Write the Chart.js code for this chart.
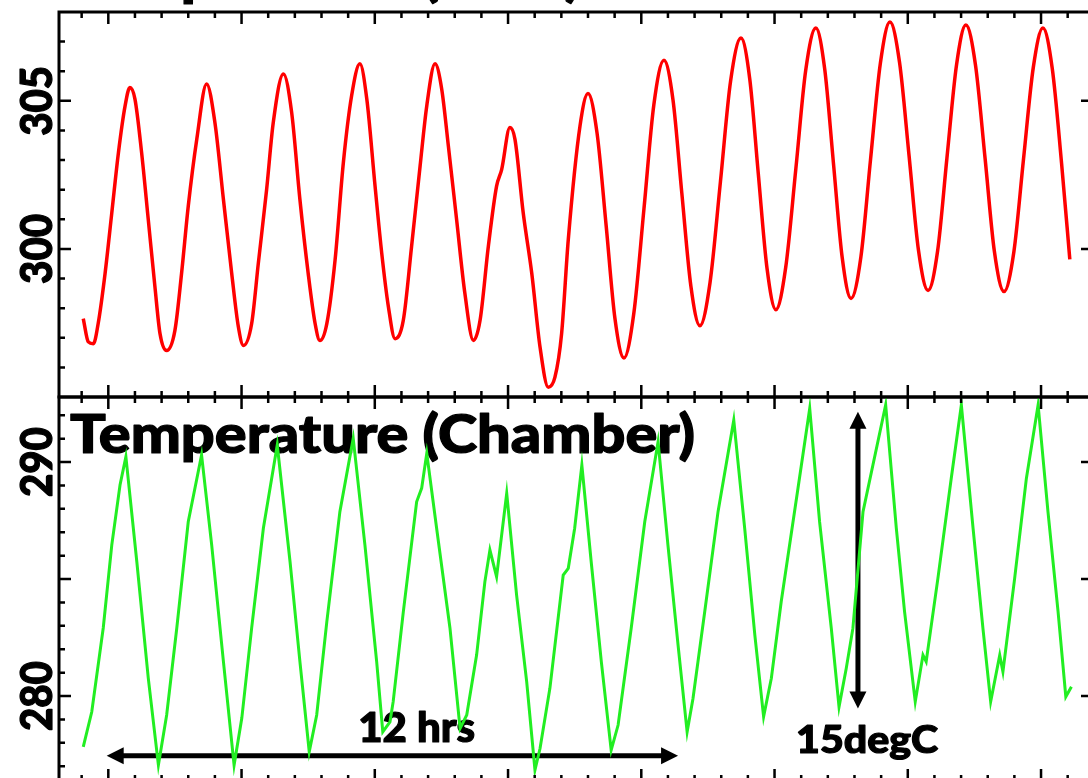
<!DOCTYPE html>
<html>
<head>
<meta charset="utf-8">
<title>Temperature cycling</title>
<script src="https://cdn.jsdelivr.net/npm/chart.js@4.4.1/dist/chart.umd.min.js"></script>
<style>
  html, body { margin: 0; padding: 0; background: #fff; overflow: hidden; }
  #wrap { position: relative; width: 1088px; height: 778px; overflow: hidden; }
  #topChart { position: absolute; left: 0; top: 0; }
  #bottomChart { position: absolute; left: 0; top: 380px; }
</style>
</head>
<body>
<div id="wrap">
  <canvas id="topChart" width="1100" height="400"></canvas>
  <canvas id="bottomChart" width="1100" height="420"></canvas>
</div>
<script>
// time in frame-tick units (one minor tick = 1), temperatures
const timeRed = [-0.94, -0.75, -0.56, -0.38, -0.12, 0.13, 0.38, 0.63, 0.81, 1.00,
  1.25, 1.50, 1.75, 1.94, 2.19, 2.50, 2.75, 3.00, 3.32, 3.69,
  4.00, 4.32, 4.63, 4.88, 5.07, 5.38, 5.63, 5.94, 6.19, 6.57,
  6.88, 7.19, 7.50, 7.76, 7.94, 8.20, 8.51, 8.82, 9.13, 9.44,
  9.70, 10.01, 10.26, 10.51, 10.76, 11.07, 11.38, 11.70, 11.95, 12.26,
  12.51, 12.76, 13.07, 13.38, 13.70, 13.95, 14.26, 14.57, 14.76, 15.07,
  15.26, 15.57, 15.89, 16.20, 16.51, 16.76, 17.01, 17.26, 17.70, 18.00,
  18.34, 18.68, 19.01, 19.35, 19.72, 20.10, 20.47, 20.85, 21.19, 21.52,
  21.86, 22.20, 22.58, 22.97, 23.35, 23.74, 24.07, 24.39, 24.72, 25.05,
  25.42, 25.80, 26.17, 26.55, 26.88, 27.21, 27.54, 27.87, 28.24, 28.60,
  28.97, 29.33, 29.69, 30.05, 30.40, 30.76, 31.12, 31.47, 31.83, 32.18,
  32.54, 32.90, 33.25, 33.61, 33.98, 34.34, 34.71, 35.07, 35.42, 35.77, 36.08];
const tempRed = [297.65, 296.86, 296.80, 297.48, 299.18, 301.21, 303.25, 304.83, 305.45, 305.06,
  303.25, 300.99, 298.72, 297.14, 296.57, 297.25, 299.18, 301.44, 303.70, 305.57,
  304.27, 301.67, 299.18, 297.37, 296.74, 297.48, 299.52, 302.00, 304.27, 305.91,
  304.61, 301.67, 299.18, 297.48, 296.91, 297.48, 299.63, 302.91, 305.17, 306.25,
  305.06, 302.12, 299.86, 298.05, 296.97, 297.59, 300.08, 302.80, 304.83, 306.25,
  305.40, 303.48, 300.99, 298.50, 296.91, 297.59, 300.08, 302.12, 302.68, 304.10,
  303.70, 301.21, 299.18, 296.69, 295.33, 295.67, 297.14, 300.31, 304.15, 305.25,
  303.91, 300.80, 297.66, 296.32, 297.83, 301.35, 304.86, 306.37, 305.03, 301.89,
  298.75, 297.41, 298.87, 302.27, 305.66, 307.12, 305.74, 302.54, 299.33, 297.95,
  299.38, 302.71, 306.03, 307.46, 306.09, 302.90, 299.70, 298.33, 299.73, 303.00,
  306.26, 307.66, 306.30, 303.13, 299.96, 298.60, 299.94, 303.08, 306.22, 307.56,
  306.21, 303.06, 299.91, 298.56, 299.90, 303.01, 306.13, 307.46, 306.10, 302.90, 299.65];

const timeGreen = [-0.94, -0.62, -0.19, 0.13, 0.44, 0.66, 1.07, 1.50, 1.88, 2.19,
  2.57, 3.00, 3.50, 3.88, 4.32, 4.72, 5.01, 5.38, 5.82, 6.34,
  6.82, 7.19, 7.54, 7.82, 8.20, 8.69, 9.19, 9.63, 10.07, 10.30,
  10.57, 10.69, 11.07, 11.57, 11.76, 11.95, 12.32, 12.82, 13.20, 13.45,
  13.82, 14.13, 14.32, 14.57, 14.95, 15.32, 15.70, 16.01, 16.20, 16.57,
  17.07, 17.26, 17.50, 17.77, 18.12, 18.50, 18.87, 19.13, 19.62, 20.13,
  20.63, 21.00, 21.38, 21.72, 21.94, 22.38, 22.88, 23.47, 23.88, 24.26,
  24.59, 24.88, 25.25, 25.88, 26.32, 26.69, 27.13, 27.42, 27.69, 27.94,
  28.32, 29.17, 29.57, 29.88, 30.28, 30.57, 30.69, 31.13, 31.63, 32.01,
  32.45, 32.82, 33.11, 33.45, 33.57, 34.01, 34.45, 34.89, 35.26, 35.64, 35.93, 36.14];
const tempGreen = [277.83, 279.33, 282.91, 286.45, 289.02, 290.23, 285.74, 280.77, 277.05, 279.19,
  282.91, 287.45, 290.30, 286.45, 281.47, 277.05, 279.06, 282.91, 287.18, 290.73,
  285.74, 281.47, 277.62, 279.19, 283.18, 287.88, 291.01, 286.45, 281.47, 278.47,
  278.90, 279.76, 283.60, 288.30, 288.89, 290.37, 287.17, 282.91, 278.62, 279.19,
  281.75, 284.88, 286.24, 285.10, 288.66, 284.32, 280.61, 276.84, 277.76, 280.33,
  285.17, 285.46, 287.17, 289.87, 285.74, 281.47, 277.69, 278.76, 282.89, 287.45,
  290.87, 286.45, 282.18, 278.47, 279.90, 283.60, 287.88, 291.79, 287.17, 282.61,
  279.12, 280.76, 284.03, 288.88, 292.29, 287.45, 282.89, 279.54, 281.18, 282.89,
  287.88, 292.44, 287.17, 283.60, 279.76, 281.75, 281.47, 285.03, 289.30, 292.44,
  287.17, 282.89, 279.76, 281.75, 281.04, 285.03, 289.30, 292.44, 287.88, 283.60, 279.97, 280.40];

const timeRange = [-1.85, 36.95];
const topRange = [295, 308];
const bottomRange = [276.37, 292.78];
const topTickLabels = [300, 305];
const bottomTickLabels = [280, 290];
const titles = ['Temperature (DUT)', 'Temperature (Chamber)'];

// annotations, in data units
const hoursSpan = { from: -0.06, to: 21.38, at: 277.45, label: '12 hrs', labelAt: [11.57, 278.05] };
const swingSpan = { at: 28.13, from: 279.47, to: 292.15, label: '15degC', labelAt: [28.47, 277.55] };

const FONT = 'Lato, "Open Sans", sans-serif';

// heavy squeezed text, close to the bold Calibri of the original
function heavyText(ctx, text, capH, sx, align) {
  ctx.font = '900 ' + (capH / 0.72) + 'px ' + FONT;
  ctx.scale(sx, 1);
  ctx.textAlign = align;
  ctx.textBaseline = 'alphabetic';
  ctx.fillStyle = '#000';
  ctx.strokeStyle = '#000';
  ctx.lineWidth = 1.2;
  ctx.lineJoin = 'round';
  ctx.fillText(text, 0, 0);
  ctx.strokeText(text, 0, 0);
}

function fitText(ctx, text, x, y, capH, width, align) {
  ctx.save();
  ctx.font = '900 ' + (capH / 0.72) + 'px ' + FONT;
  const sx = width / ctx.measureText(text).width;
  ctx.translate(x, y);
  heavyText(ctx, text, capH, sx, align);
  ctx.restore();
}

// both titles share the squeeze of the visible one
function drawTitle(ctx, text, x, y) {
  ctx.save();
  ctx.font = '900 ' + (38 / 0.72) + 'px ' + FONT;
  const sx = 625 / ctx.measureText(titles[1]).width;
  ctx.translate(x, y);
  heavyText(ctx, text, 38, sx, 'left');
  ctx.restore();
}

function drawArrow(ctx, x1, y1, x2, y2) {
  const head = 17, half = 8.5;
  const len = Math.hypot(x2 - x1, y2 - y1);
  const ux = (x2 - x1) / len, uy = (y2 - y1) / len;
  ctx.save();
  ctx.strokeStyle = '#000';
  ctx.fillStyle = '#000';
  ctx.lineWidth = 5;
  ctx.beginPath();
  ctx.moveTo(x1 + ux * head * 0.8, y1 + uy * head * 0.8);
  ctx.lineTo(x2 - ux * head * 0.8, y2 - uy * head * 0.8);
  ctx.stroke();
  [[x1, y1, 1], [x2, y2, -1]].forEach(([tx, ty, d]) => {
    const bx = tx + ux * head * d, by = ty + uy * head * d;
    ctx.beginPath();
    ctx.moveTo(tx, ty);
    ctx.lineTo(bx - uy * half, by + ux * half);
    ctx.lineTo(bx + uy * half, by - ux * half);
    ctx.closePath();
    ctx.fill();
  });
  ctx.restore();
}

// frame with inward ticks on every side, rotated labels on the left
function drawFrame(chart, tickLabels) {
  const { ctx, chartArea: a, scales: { x, y } } = chart;
  ctx.save();
  ctx.strokeStyle = '#000';
  ctx.lineWidth = 3;
  ctx.strokeRect(a.left, a.top, a.right - a.left, a.bottom - a.top);
  ctx.lineWidth = 2.5;
  ctx.beginPath();
  x.ticks.forEach(t => {
    if (!Number.isInteger(t.value)) return;
    const px = x.getPixelForValue(t.value);
    if (px < a.left + 3 || px > a.right - 3) return;
    const len = t.value % 5 === 0 ? 12 : 6;
    ctx.moveTo(px, a.top); ctx.lineTo(px, a.top + len);
    ctx.moveTo(px, a.bottom); ctx.lineTo(px, a.bottom - len);
  });
  y.ticks.forEach(t => {
    if (!Number.isInteger(t.value)) return;
    const py = y.getPixelForValue(t.value);
    if (py < a.top + 3 || py > a.bottom - 3) return;
    const major = t.value % 5 === 0;
    ctx.moveTo(a.left, py); ctx.lineTo(a.left + (major ? 12 : 6), py);
    if (major) { ctx.moveTo(a.right, py); ctx.lineTo(a.right - 12, py); }
  });
  ctx.stroke();
  ctx.restore();

  tickLabels.forEach(v => {
    const py = y.getPixelForValue(v);
    ctx.save();
    ctx.translate(a.left - 7, py);
    ctx.rotate(-Math.PI / 2);
    fitText(ctx, String(v), 0, 0, 32, 70, 'center');
    ctx.restore();
  });
}

function makeChart(id, times, temps, color, width, range, pad, tickLabels, spline, decorate) {
  return new Chart(document.getElementById(id), {
    type: 'line',
    data: {
      datasets: [{
        data: times.map((t, i) => ({ x: t, y: temps[i] })),
        borderColor: color,
        borderWidth: width,
        pointRadius: 0,
        fill: false,
        tension: spline ? 0.4 : 0,
        cubicInterpolationMode: spline ? 'monotone' : 'default'
      }]
    },
    options: {
      responsive: false,
      animation: false,
      devicePixelRatio: 1,
      layout: { padding: pad },
      plugins: { legend: { display: false }, tooltip: { enabled: false } },
      scales: {
        x: { type: 'linear', display: false, min: timeRange[0], max: timeRange[1],
             ticks: { stepSize: 1, includeBounds: false } },
        y: { type: 'linear', display: false, min: range[0], max: range[1],
             ticks: { stepSize: 1, includeBounds: false } }
      }
    },
    plugins: [{
      id: 'frame',
      beforeDatasetsDraw(chart) { decorate(chart); },
      afterDatasetsDraw(chart) { drawFrame(chart, tickLabels); }
    }]
  });
}

makeChart('topChart', timeRed, tempRed, '#ff0000', 3.5, topRange,
  { left: 59, right: 7, top: 12, bottom: 3 }, topTickLabels, true,
  chart => {
    const a = chart.chartArea;
    drawTitle(chart.ctx, titles[0], a.left + 11, a.top - 17);
  });

makeChart('bottomChart', timeGreen, tempGreen, '#22ee22', 3, bottomRange,
  { left: 59, right: 7, top: 17, bottom: 19 }, bottomTickLabels, false,
  chart => {
    const { ctx, chartArea: a, scales: { x, y } } = chart;
    drawTitle(ctx, titles[1], a.left + 11, a.top + 56);
    drawArrow(ctx, x.getPixelForValue(hoursSpan.from), y.getPixelForValue(hoursSpan.at),
                   x.getPixelForValue(hoursSpan.to), y.getPixelForValue(hoursSpan.at));
    fitText(ctx, hoursSpan.label, x.getPixelForValue(hoursSpan.labelAt[0]),
            y.getPixelForValue(hoursSpan.labelAt[1]), 30, 117, 'center');
    drawArrow(ctx, x.getPixelForValue(swingSpan.at), y.getPixelForValue(swingSpan.to),
                   x.getPixelForValue(swingSpan.at), y.getPixelForValue(swingSpan.from));
    fitText(ctx, swingSpan.label, x.getPixelForValue(swingSpan.labelAt[0]),
            y.getPixelForValue(swingSpan.labelAt[1]), 28, 142, 'center');
  });
</script>
</body>
</html>
